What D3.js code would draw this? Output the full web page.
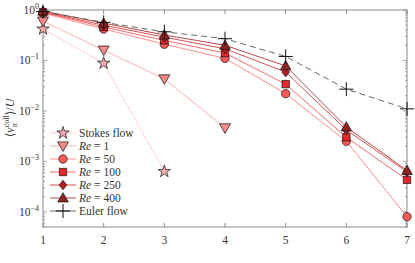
<!DOCTYPE html>
<html><head><meta charset="utf-8">
<script src="https://cdn.jsdelivr.net/npm/d3@7"></script>
<style>body{margin:0;background:#fff}svg{display:block}svg text{font-family:"Times New Roman","Liberation Serif","DejaVu Serif",serif;}</style>
</head><body><svg id="c" width="415" height="263"></svg>
<script>
const xTicks = [1,2,3,4,5,6,7];
const yTickExps = [0,-1,-2,-3,-4];
const stokes = [0.42, 0.088, 6.3e-4];
const re1    = [0.6, 0.16, 0.043, 0.0046];
const re50   = [0.87, 0.42, 0.21, 0.11, 0.022, 0.0025, 8e-5];
const re100  = [0.9, 0.46, 0.25, 0.14, 0.034, 0.003, 4.3e-4];
const re250  = [0.92, 0.5, 0.29, 0.17, 0.059, 0.0042, 6.2e-4];
const re400  = [0.95, 0.55, 0.32, 0.2, 0.078, 0.0048, 6.6e-4];
const euler  = [0.93, 0.57, 0.37, 0.27, 0.12, 0.027, 0.011];
const legendLabels = ["Stokes flow","Re = 1","Re = 50","Re = 100","Re = 250","Re = 400","Euler flow"];

const svg = d3.select("#c");
const L=43, R=407, T=10, B=227;
const x = d3.scaleLinear().domain([1,7]).range([L,R]);
const y = d3.scaleLog().domain([5e-5,1]).range([B,T]);
const axisCol="#8a8a8a", txtCol="#333";

const series = [
  {v:stokes, sym:"star", line:"#ffd2d2", fill:"#f7a9b0", dash:null, size:6},
  {v:re1, sym:"tdown", line:"#ffb0b0", fill:"#f48a8a", dash:null, size:5.5},
  {v:re50, sym:"circle", line:"#ff8c8c", fill:"#ff5a5a", dash:null, size:4.2},
  {v:re100, sym:"square", line:"#f56a6a", fill:"#e8272a", dash:null, size:3.7},
  {v:re250, sym:"diamond", line:"#d65050", fill:"#b81c22", dash:null, size:4.8},
  {v:re400, sym:"tup", line:"#b84848", fill:"#8f2222", dash:null, size:5.3},
  {v:euler, sym:"plus", line:"#555", fill:"none", dash:"6,4", size:7}
];

function symPath(s, r){
  switch(s){
    case "circle": return d3.symbol(d3.symbolCircle, Math.PI*r*r)();
    case "square": return `M${-r},${-r}H${r}V${r}H${-r}Z`;
    case "diamond": return `M0,${-r}L${r*0.8},0L0,${r}L${-r*0.8},0Z`;
    case "tup": return `M0,${-r}L${r},${r*0.75}L${-r},${r*0.75}Z`;
    case "tdown": return `M0,${r}L${r},${-r*0.75}L${-r},${-r*0.75}Z`;
    case "star": return d3.symbol(d3.symbolStar, 48)();
    case "plus": return `M${-r},0H${r}M0,${-r}V${r}`;
  }
}
function txt(sel){ return sel.append("text").attr("fill",txtCol); }

const g = svg.append("g");
g.append("rect").attr("x",L).attr("y",T).attr("width",R-L).attr("height",B-T)
  .attr("fill","none").attr("stroke",axisCol).attr("stroke-width",1);
xTicks.forEach(t=>{
  g.append("line").attr("x1",x(t)).attr("x2",x(t)).attr("y1",B).attr("y2",B-4).attr("stroke",axisCol);
  g.append("line").attr("x1",x(t)).attr("x2",x(t)).attr("y1",T).attr("y2",T+4).attr("stroke",axisCol);
  txt(g).attr("x",x(t)).attr("y",B+17).attr("text-anchor","middle").attr("font-size",11.5).text(t);
});
for(let e=-5;e<=0;e++){
  for(let m=1;m<10;m++){
    const v=m*Math.pow(10,e);
    if(v<5e-5||v>1) continue;
    const len = m===1?4:2;
    const yy=y(v);
    g.append("line").attr("x1",L).attr("x2",L+len).attr("y1",yy).attr("y2",yy).attr("stroke",axisCol).attr("stroke-width",0.8);
    g.append("line").attr("x1",R).attr("x2",R-len).attr("y1",yy).attr("y2",yy).attr("stroke",axisCol).attr("stroke-width",0.8);
  }
}
yTickExps.forEach(e=>{
  const t=txt(g).attr("x",L-4).attr("y",y(Math.pow(10,e))+4).attr("text-anchor","end").attr("font-size",11.5);
  t.append("tspan").text("10");
  t.append("tspan").attr("dy",-5).attr("font-size",8).text(e===0?"0":"\u2212"+(-e));
});

const line = d3.line().x((d,i)=>x(xTicks[i])).y(d=>y(d));
series.forEach(s=>{
  svg.append("path").attr("d",line(s.v)).attr("fill","none").attr("stroke",s.line)
    .attr("stroke-width",s.sym==="plus"?0.9:1).attr("stroke-dasharray",s.dash);
});
series.forEach(s=>{
  s.v.forEach((v,i)=>{
    svg.append("path").attr("d",symPath(s.sym,s.size))
      .attr("transform",`translate(${x(xTicks[i])},${y(v)})`)
      .attr("fill",s.fill).attr("stroke","#111").attr("stroke-width",s.sym==="plus"?1:0.7);
  });
});

const ly0=133, ldy=13;
series.forEach((s,i)=>{
  const yy=ly0+i*ldy;
  svg.append("line").attr("x1",50).attr("x2",76).attr("y1",yy).attr("y2",yy).attr("stroke",s.line)
    .attr("stroke-width",s.sym==="plus"?0.9:1);
  svg.append("path").attr("d",symPath(s.sym,s.size)).attr("transform",`translate(63,${yy})`)
    .attr("fill",s.fill).attr("stroke","#111").attr("stroke-width",s.sym==="plus"?1:0.7);
  const t=txt(svg).attr("x",79).attr("y",yy+4).attr("font-size",11.5);
  const lab=legendLabels[i];
  if(lab.startsWith("Re")){
    t.append("tspan").attr("font-style","italic").text("Re");
    t.append("tspan").text(lab.slice(2));
  } else t.text(lab);
});

const yl=txt(svg).attr("transform","translate(14,118) rotate(-90)").attr("text-anchor","middle").attr("font-size",12);
yl.append("tspan").text("\u27E8");
yl.append("tspan").attr("font-style","italic").text("v");
yl.append("tspan").attr("font-style","italic").attr("font-size",8).attr("dy",3).text("n");
yl.append("tspan").attr("font-size",8).attr("dy",-8).attr("dx",-4).text("coll");
yl.append("tspan").attr("dy",5).text("\u27E9/");
yl.append("tspan").attr("font-style","italic").text("U");
</script></body></html>
